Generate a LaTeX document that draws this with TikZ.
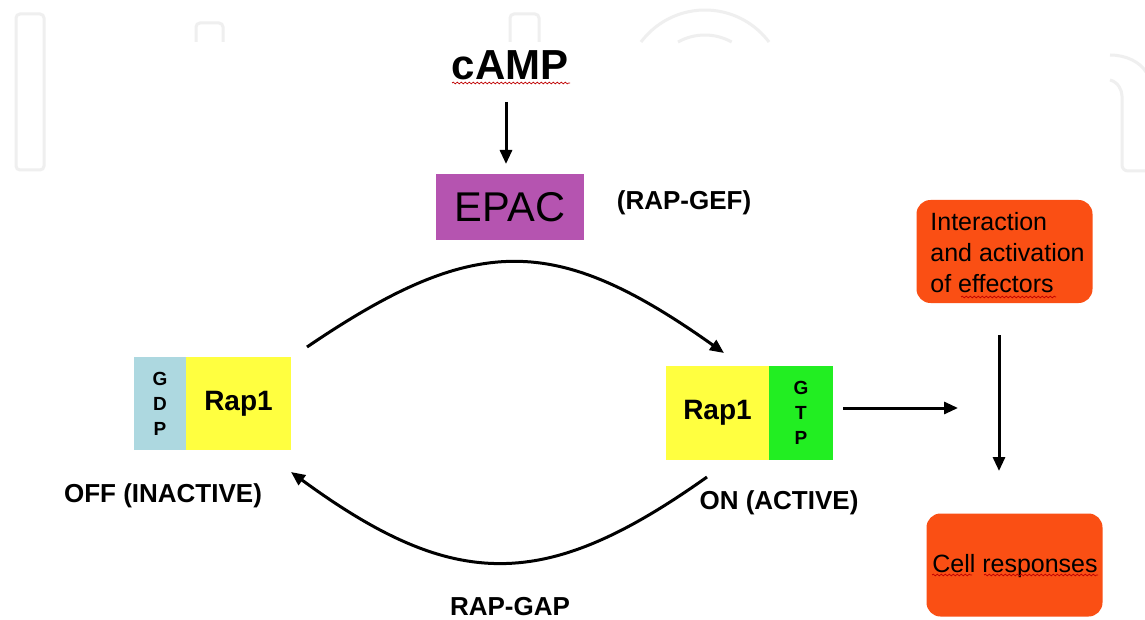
\documentclass[tikz,border=0pt]{standalone}
\usepackage{fontspec}
\setmainfont{Liberation Sans}
\usetikzlibrary{arrows.meta,decorations.pathmorphing}
\definecolor{epacc}{HTML}{B554B0}
\definecolor{yelc}{HTML}{FFFF40}
\definecolor{bluec}{HTML}{ADD8E0}
\definecolor{greenc}{HTML}{22EE22}
\definecolor{orangec}{HTML}{FA4F14}
\definecolor{wmc}{HTML}{EFEFEF}
\begin{document}
\begin{tikzpicture}[x=0.5pt,y=-0.5pt,
  arr/.style={line width=1.5pt,-{Triangle[length=7pt,width=6pt]}},
  lbl/.style={font=\bfseries\fontsize{13}{15}\selectfont,inner sep=0pt},
  wavy/.style={draw=red!75!black,line width=0.35pt,decorate,decoration={snake,segment length=2pt,amplitude=0.45pt}},
  wm/.style={draw=wmc,line width=1.5pt},
  boxbase/.style={inner sep=0pt,outer sep=0pt,anchor=center},
  orangebox/.style={boxbase,fill=orangec,rounded corners=7pt,minimum width=88pt,minimum height=51.5pt},
  stacktxt/.style={font=\bfseries\fontsize{9.5}{12.5}\selectfont,align=center}
]
\useasboundingbox (0,0) rectangle (1145,620);
\fill[white] (0,0) rectangle (1145,620);
% faint watermark
\draw[wm,rounded corners=2pt] (16,14) rectangle (44,170);
\draw[wm,rounded corners=2pt] (196,42) -- (196,23) -- (223,23) -- (223,42);
\draw[wm,rounded corners=2pt] (510,42) -- (510,14) -- (539,14) -- (539,42);
\draw[wm] (641,42) arc[start angle=-143.13,end angle=-36.87,radius=80];
\draw[wm] (678,42) arc[start angle=-119.2,end angle=-60.8,radius=55];
\draw[wm] (1110,55) .. controls (1126,55) and (1140,62) .. (1146,72);
\draw[wm,rounded corners=3pt] (1110,80) .. controls (1118,82) and (1122,90) .. (1122,102) -- (1122,171) -- (1146,171);

% cAMP and EPAC
\node[font=\bfseries\fontsize{21}{24}\selectfont,inner sep=0pt] (camp) at (510,65) {cAMP};
\draw[wavy] (452,83) -- (570,83);
\node[boxbase,fill=epacc,minimum width=74pt,minimum height=33pt,font=\fontsize{20.8}{24}\selectfont] (epac) at (510,207) {EPAC};
\node[lbl] (gef) at (684,203) {(RAP-GEF)};
\coordinate (campend) at (506,102);
\coordinate (epactop) at (506,164);
\draw[arr] (campend) -- (epactop);

% Rap1 GDP (off)
\node[boxbase,fill=bluec,minimum width=26pt,minimum height=46.5pt] (gdp) at (160,403.5) {};
\node[stacktxt] at (gdp) {G\\D\\P};
\node[boxbase,fill=yelc,minimum width=52.5pt,minimum height=46.5pt,font=\bfseries\fontsize{14}{16}\selectfont] (rapL) at (238.5,403.5) {Rap1};
\node[lbl] (off) at (163,496) {OFF (INACTIVE)};

% Rap1 GTP (on)
\node[boxbase,fill=yelc,minimum width=51.5pt,minimum height=47pt,font=\bfseries\fontsize{14}{16}\selectfont] (rapR) at (717.5,413) {Rap1};
\node[boxbase,fill=greenc,minimum width=32pt,minimum height=47pt] (gtp) at (801,413) {};
\node[stacktxt] at (gtp) {G\\T\\P};
\node[lbl] (on) at (779,503) {ON (ACTIVE)};

\node[lbl] (gap) at (510,607) {RAP-GAP};

% cycle arrows
\coordinate (topstart) at (307,347);
\coordinate (topend) at (724,353);
\draw[arr] (topstart) .. controls (475,233) and (555,233) .. (topend);
\coordinate (botstart) at (707,477);
\coordinate (botend) at (291,472);
\draw[arr] (botstart) .. controls (545,592) and (455,592) .. (botend);

% effectors
\node[orangebox] (inter) at (1004.5,251.5) {};
\node[font=\fontsize{12.5}{15.5}\selectfont,align=left,anchor=north west,inner sep=0pt] (intertxt) at (930,212) {Interaction\\and activation\\of effectors};
\draw[wavy] (961,297) -- (1056,297);
\node[orangebox] (cell) at (1014.5,565) {};
\node[font=\fontsize{12.5}{15}\selectfont,inner sep=0pt] (celltxt) at (1015,566) {Cell responses};
\draw[wavy] (932,575) -- (972,575);
\draw[wavy] (984,575) -- (1098,575);

\coordinate (hstart) at (843,408);
\coordinate (hend) at (958,408);
\draw[arr] (hstart) -- (hend);
\coordinate (vstart) at (999,335);
\coordinate (vend) at (999,471);
\draw[arr] (vstart) -- (vend);
\end{tikzpicture}
\end{document}
